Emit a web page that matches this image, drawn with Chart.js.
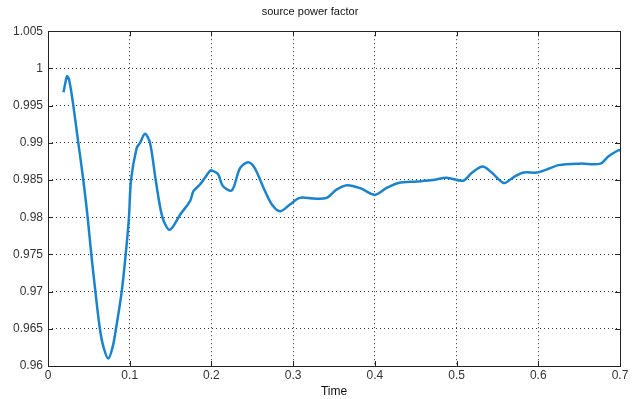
<!DOCTYPE html>
<html>
<head>
<meta charset="utf-8">
<script src="https://cdn.jsdelivr.net/npm/chart.js@4"></script>
<style>
  html, body { margin: 0; padding: 0; background: #fff; }
  #wrap { width: 640px; height: 399px; }
</style>
</head>
<body>
<div id="wrap"><canvas id="pf"></canvas></div>
<script>
// values
const times = [0.019, 0.0233, 0.0257, 0.029, 0.031, 0.0371, 0.0432, 0.0485, 0.053, 0.058, 0.0635, 0.068,
  0.0738, 0.079, 0.0832, 0.0902, 0.0951, 0.0991, 0.1016, 0.1085, 0.1126, 0.1187, 0.1248, 0.1318, 0.140,
  0.149, 0.162, 0.174, 0.178, 0.186, 0.198, 0.200, 0.208, 0.214, 0.225, 0.235, 0.245, 0.253, 0.264,
  0.274, 0.284, 0.296, 0.308, 0.325, 0.341, 0.353, 0.366, 0.382, 0.400, 0.414, 0.429, 0.451,
  0.471, 0.488, 0.508, 0.519, 0.532, 0.543, 0.558, 0.570, 0.582, 0.598, 0.610, 0.625, 0.651,
  0.676, 0.686, 0.698, 0.700];
const powerFactor = [0.9968, 0.99895, 0.9985, 0.9965, 0.995, 0.990, 0.985, 0.980, 0.975, 0.970, 0.965, 0.9625,
  0.961, 0.9625, 0.965, 0.970, 0.975, 0.980, 0.985, 0.9893, 0.990, 0.9912, 0.990, 0.985, 0.980,
  0.9783, 0.9804, 0.9822, 0.9835, 0.9844, 0.9862, 0.9863, 0.9858, 0.9842, 0.9836, 0.9866, 0.9874, 0.9866, 0.9839,
  0.9817, 0.9808, 0.9817, 0.9826, 0.9825, 0.9826, 0.9837, 0.9843, 0.9839, 0.9830, 0.9839, 0.9846, 0.9848,
  0.9850, 0.9853, 0.9849, 0.9860, 0.9868, 0.9860, 0.9846, 0.9854, 0.9860, 0.9860, 0.9864, 0.9870, 0.9872,
  0.9872, 0.9882, 0.9890, 0.9890];
const xTicks = [0, 0.1, 0.2, 0.3, 0.4, 0.5, 0.6, 0.7];
const yTicks = [0.96, 0.965, 0.97, 0.975, 0.98, 0.985, 0.99, 0.995, 1, 1.005];

const fmt = v => String(parseFloat(v.toFixed(3)));

// matlab style box with small inward ticks
const boxPlugin = {
  id: 'box',
  afterDatasetsDraw(chart) {
    const { ctx, chartArea: a, scales } = chart;
    ctx.save();
    ctx.strokeStyle = '#222';
    ctx.lineWidth = 1;
    ctx.beginPath();
    xTicks.forEach(t => {
      const x = Math.round(scales.x.getPixelForValue(t)) + 0.5;
      ctx.moveTo(x, a.bottom); ctx.lineTo(x, a.bottom - 5);
      ctx.moveTo(x, a.top); ctx.lineTo(x, a.top + 5);
    });
    yTicks.forEach(t => {
      const y = Math.round(scales.y.getPixelForValue(t)) + 0.5;
      ctx.moveTo(a.left, y); ctx.lineTo(a.left + 5, y);
      ctx.moveTo(a.right, y); ctx.lineTo(a.right - 5, y);
    });
    ctx.stroke();
    ctx.strokeRect(Math.round(a.left) + 0.5, Math.round(a.top) + 0.5,
      Math.round(a.right - a.left), Math.round(a.bottom - a.top));
    ctx.restore();
  }
};

new Chart(document.getElementById('pf'), {
  type: 'line',
  data: {
    datasets: [{
      data: times.map((t, i) => ({ x: t, y: powerFactor[i] })),
      borderColor: '#1a83cc',
      borderWidth: 2.5,
      pointRadius: 0,
      tension: 0.3
    }]
  },
  options: {
    responsive: true,
    maintainAspectRatio: false,
    animation: false,
    layout: { padding: { left: 0, right: 20, top: 0, bottom: 0 } },
    plugins: {
      legend: { display: false },
      tooltip: { enabled: false },
      title: {
        display: true,
        text: 'source power factor',
        color: '#111',
        font: { family: 'Liberation Sans', size: 11, weight: 'normal' },
        padding: { top: 5, bottom: 13 }
      }
    },
    scales: {
      x: {
        type: 'linear',
        min: 0, max: 0.7,
        afterBuildTicks: s => { s.ticks = xTicks.map(v => ({ value: v })); },
        afterFit: s => { s.height = 33; },
        ticks: { callback: fmt, color: '#333', font: { family: 'Liberation Sans', size: 12 }, padding: 2, maxRotation: 0 },
        grid: { color: '#333', lineWidth: 1, drawTicks: false },
        border: { display: false, dash: [1, 3] },
        title: { display: true, text: 'Time', color: '#111', font: { family: 'Liberation Sans', size: 12 }, padding: 0 }
      },
      y: {
        min: 0.96, max: 1.005,
        afterBuildTicks: s => { s.ticks = yTicks.map(v => ({ value: v })); },
        afterFit: s => { s.width = 48; },
        ticks: { callback: fmt, color: '#333', font: { family: 'Liberation Sans', size: 12 }, padding: 5 },
        grid: { color: '#333', lineWidth: 1, drawTicks: false },
        border: { display: false, dash: [1, 3] }
      }
    }
  },
  plugins: [boxPlugin]
});
</script>
</body>
</html>
